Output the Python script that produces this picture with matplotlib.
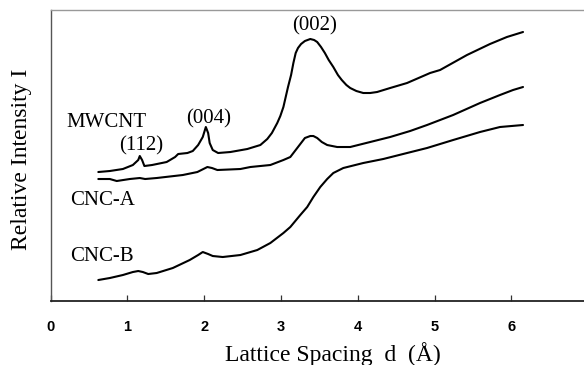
import matplotlib
matplotlib.use("Agg")
import matplotlib.pyplot as plt

# Lattice spacing d (Å) and relative intensity (arbitrary units)
mw_d = [0.62, 0.77, 0.94, 1.07, 1.14, 1.16, 1.19, 1.22, 1.32, 1.51, 1.62, 1.66, 1.78,
        1.85, 1.92, 1.98, 2.02, 2.05, 2.07, 2.11, 2.18, 2.34, 2.56, 2.73, 2.82, 2.88,
        2.95, 2.99, 3.03, 3.06, 3.09, 3.13, 3.16, 3.19, 3.22, 3.26, 3.31, 3.38, 3.43,
        3.47, 3.52, 3.57, 3.62, 3.68, 3.74, 3.79, 3.85, 3.90, 3.98, 4.07, 4.16, 4.25,
        4.42, 4.64, 4.94, 5.07, 5.42, 5.72, 5.94, 6.15]
mw_i = [129, 130, 132, 136, 141, 145, 141, 135, 136, 139, 144, 147, 148,
        150, 156, 164, 174, 168, 158, 151, 148, 149, 152, 156, 162, 168,
        178, 185, 194, 204, 214, 226, 238, 248, 253, 257, 260, 262, 261,
        259, 254, 248, 241, 234, 226, 221, 216, 213, 210, 208, 208, 209,
        213, 218, 228, 231, 246, 257, 264, 269]

cnca_d = [0.62, 0.77, 0.86, 1.03, 1.16, 1.23, 1.38, 1.72, 1.91, 2.04, 2.10, 2.17, 2.47,
          2.60, 2.86, 3.03, 3.12, 3.16, 3.22, 3.27, 3.31, 3.38, 3.42, 3.47, 3.53, 3.60,
          3.73, 3.90, 4.16, 4.42, 4.68, 4.90, 5.24, 5.59, 5.85, 6.02, 6.15]
cnca_i = [122, 122, 120, 122, 123, 122, 123, 126, 129, 134, 133, 131, 132,
          134, 136, 141, 144, 148, 154, 159, 163, 165, 165, 163, 159, 156,
          154, 154, 159, 164, 170, 176, 186, 198, 206, 211, 214]

cncb_d = [0.62, 0.77, 0.94, 1.07, 1.14, 1.20, 1.27, 1.38, 1.59, 1.81, 1.92, 1.98, 2.05,
          2.11, 2.24, 2.47, 2.69, 2.86, 3.03, 3.12, 3.25, 3.34, 3.42, 3.51, 3.60, 3.68,
          3.81, 4.07, 4.33, 4.64, 4.90, 5.24, 5.59, 5.85, 6.15]
cncb_i = [21, 23, 26, 29, 30, 29, 27, 28, 33, 41, 46, 49, 47,
          45, 44, 46, 51, 58, 68, 74, 86, 94, 104, 114, 122, 128,
          133, 138, 142, 148, 153, 161, 169, 174, 176]

x_ticks = [0, 1, 2, 3, 4, 5, 6]
x_ticklabels = ["0", "1", "2", "3", "4", "5", "6"]

# text labels: (text, d, intensity)
labels = [("MWCNT", 0.72, 179), ("(112)", 1.18, 155), ("(004)", 2.06, 182),
          ("(002)", 3.43, 275), ("CNC-A", 0.67, 101), ("CNC-B", 0.67, 45)]

serif = ["Liberation Serif", "DejaVu Serif"]

fig = plt.figure(figsize=(5.84, 3.65), dpi=100)
ax = fig.add_axes([0.0868, 0.1753, 0.9132, 0.7973])

for d, i in [(mw_d, mw_i), (cnca_d, cnca_i), (cncb_d, cncb_i)]:
    ax.plot(d, i, color="black", lw=1.5, solid_joinstyle="round", solid_capstyle="round")

for t, d, i in labels:
    ax.text(d, i, t, ha="center", va="center", fontsize=15, family=serif)

ax.set_xlim(0, 6.944)
ax.set_ylim(0, 291)
ax.set_xticks(x_ticks)
ax.set_xticklabels(x_ticklabels, family=["Liberation Sans", "DejaVu Sans"], fontsize=10.5,
                   fontweight="bold")
ax.set_yticks([])
ax.tick_params(axis="x", direction="in", length=4.5, width=0.9, pad=14, color="#333333")

ax.spines["right"].set_visible(False)
ax.spines["top"].set_color("#999999")
ax.spines["top"].set_linewidth(1.0)
ax.spines["left"].set_color("#555555")
ax.spines["left"].set_linewidth(1.0)
ax.spines["bottom"].set_color("#222222")
ax.spines["bottom"].set_linewidth(1.3)

fig.text(333 / 584, 4 / 365, "Lattice Spacing  d  (Å)", ha="center", va="baseline",
         fontsize=17, family=serif)
fig.text(22 / 584, 1 - 159 / 365, "Relative Intensity I", ha="center", va="center",
         rotation=90, fontsize=17, family=serif)

fig.savefig("out.png", dpi=100)
